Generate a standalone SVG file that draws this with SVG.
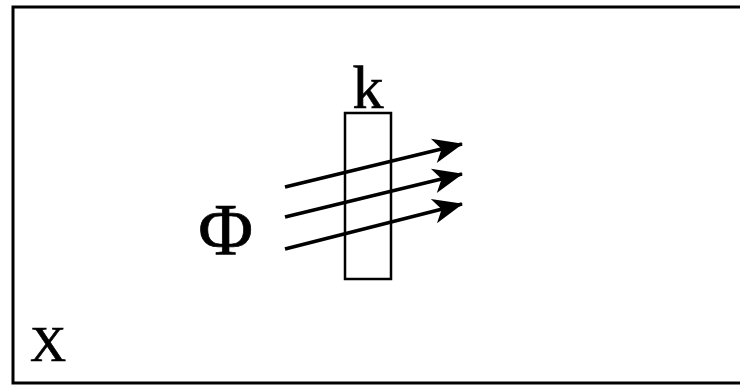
<svg xmlns="http://www.w3.org/2000/svg" width="740" height="385" viewBox="0 0 740 385">
<style>
text{font-family:"Liberation Serif","Times New Roman",serif;fill:#000;stroke:#000;stroke-width:0.7;text-anchor:middle}
.ar{stroke:#000;stroke-width:3.5;fill:none;marker-end:url(#ah)}
</style>
<defs>
<marker id="ah" markerUnits="userSpaceOnUse" markerWidth="34" markerHeight="34" viewBox="-31 -15 34 30" refX="0" refY="0" orient="auto">
<path d="M1,0 L-29,-12.5 L-21,0 L-29,12.5 Z" fill="#000"/>
</marker>
</defs>
<rect width="740" height="385" fill="#fff"/>
<g id="frame">
<path d="M760,7 L13,7 L13,383 L760,383" fill="none" stroke="#000" stroke-width="3"/>
</g>
<g id="k">
<rect x="345" y="113" width="46" height="166" fill="none" stroke="#000" stroke-width="2.5"/>
<text x="368" y="107.5" font-size="62">k</text>
</g>
<g id="phi"><text x="225.7" y="255" font-size="75">Φ</text></g>
<g id="x"><text x="48" y="361" font-size="50">X</text></g>
<g id="connectors">
<line class="ar" x1="285" y1="187" x2="462" y2="144"/>
<line class="ar" x1="285" y1="217" x2="462" y2="174"/>
<line class="ar" x1="285" y1="249" x2="462" y2="204"/>
</g>
</svg>
